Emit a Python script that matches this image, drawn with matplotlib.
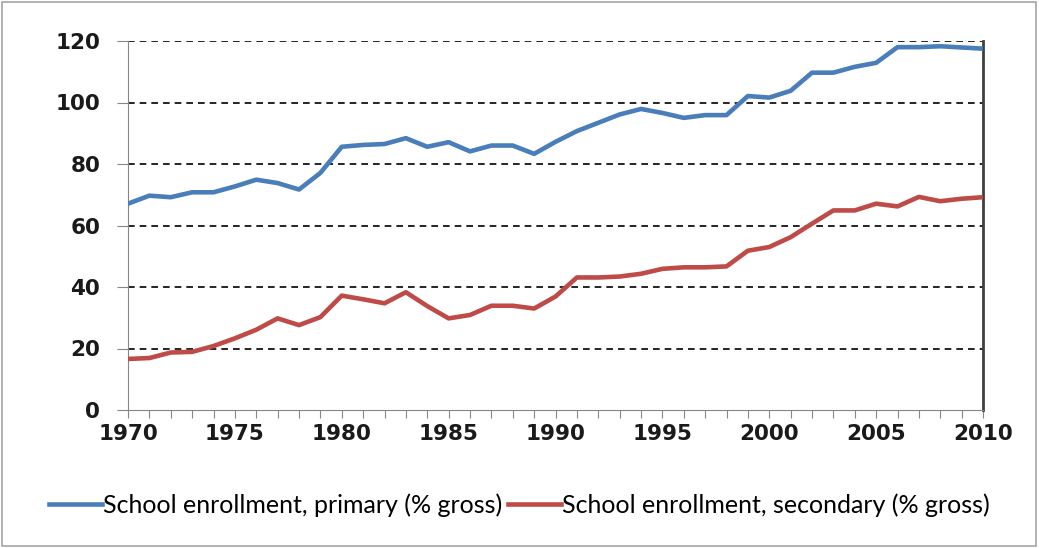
import numpy as np
import matplotlib.pyplot as plt
from matplotlib.patches import Rectangle

# Data
years = list(range(1970, 2011))
primary = [67.1, 69.7, 69.2, 70.8, 70.8, 72.7, 74.9, 73.8, 71.7, 77.1,
           85.6, 86.2, 86.5, 88.4, 85.6, 87.1, 84.1, 86.0, 86.0, 83.3,
           87.2, 90.7, 93.4, 96.1, 97.9, 96.6, 95.0, 95.9, 95.9, 102.1,
           101.6, 103.8, 109.7, 109.7, 111.6, 112.9, 118.0, 118.0, 118.3, 117.9,
           117.5]
secondary = [16.6, 16.9, 18.7, 18.9, 20.8, 23.3, 26.1, 29.8, 27.6, 30.2,
             37.2, 36.0, 34.7, 38.3, 33.8, 29.8, 30.9, 33.9, 33.9, 33.0,
             36.9, 43.1, 43.1, 43.4, 44.3, 45.9, 46.4, 46.4, 46.7, 51.8,
             53.0, 56.2, 60.6, 64.9, 64.9, 67.1, 66.2, 69.3, 67.9, 68.7,
             69.2]
labels = ['School enrollment, primary (% gross)',
          'School enrollment, secondary (% gross)']
y_ticks = [0, 20, 40, 60, 80, 100, 120]

fig = plt.figure(figsize=(10.39, 5.48), dpi=100)
ax = fig.add_axes([128/1039, 1 - 410/548, (983 - 128)/1039, (410 - 41)/548])

# outer chart frame
fig.patches.append(Rectangle((2/1039, 2/548), 1034/1039, 544/548, transform=fig.transFigure,
                             fill=False, edgecolor='#a6a6a6', linewidth=1.2))

for v in y_ticks[1:]:
    ax.axhline(v, color='black', linestyle=(0, (4, 3)), linewidth=1.2, zorder=1)

ax.plot(years, primary, color='#4A7EBB', linewidth=3.3, label=labels[0], zorder=3)
ax.plot(years, secondary, color='#BE4B48', linewidth=3.3, label=labels[1], zorder=3)

ax.set_xlim(1970, 2010)
ax.set_ylim(0, 120)
ax.set_xticks(years)
ax.set_xticklabels([str(y) if y % 5 == 0 else '' for y in years])
ax.set_yticks(y_ticks)
for lab in ax.get_xticklabels() + ax.get_yticklabels():
    lab.set_fontweight('bold')
    lab.set_fontsize(15.5)
    lab.set_color('#1a1a1a')
ax.tick_params(axis='x', length=6, color='#868686', pad=4)
ax.tick_params(axis='y', length=8, color='#868686', pad=12)

ax.spines['top'].set_visible(False)
ax.spines['left'].set_color('#868686')
ax.spines['bottom'].set_color('#868686')
ax.spines['right'].set_color('#404040')
ax.spines['right'].set_linewidth(2)

fig.legend(loc='center', bbox_to_anchor=(0.5, 1 - 505/548), ncol=2, frameon=False,
           prop={'family': 'Lato', 'size': 18}, handlelength=2.1, handletextpad=0.05,
           columnspacing=0.25)

plt.savefig('out.png', dpi=100)
